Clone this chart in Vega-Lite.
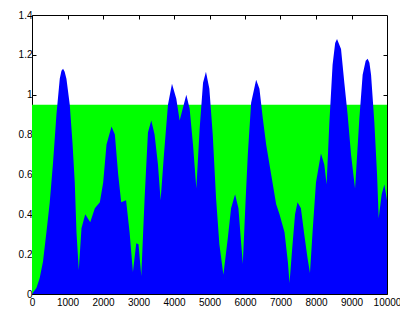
{
  "$schema": "https://vega.github.io/schema/vega-lite/v6.json",
  "autosize": {"type": "none"},
  "padding": {"left": 32, "top": 15, "right": 13, "bottom": 15},
  "width": 355,
  "height": 279,
  "background": "white",
  "config": {
    "view": {"stroke": "black", "strokeWidth": 1},
    "axis": {
      "grid": false,
      "domain": false,
      "tickSize": -4,
      "tickColor": "black",
      "labelFont": "Liberation Sans",
      "labelFontSize": 10,
      "labelColor": "black",
      "title": null
    }
  },
  "datasets": {
    "level": [
      {"x": 0, "y": 0.95},
      {"x": 10000, "y": 0.95}
    ],
    "signal": [
      {"x": 0, "y": 0}, {"x": 124, "y": 0.03}, {"x": 217, "y": 0.08}, {"x": 310, "y": 0.163},
      {"x": 406, "y": 0.31}, {"x": 500, "y": 0.46}, {"x": 593, "y": 0.66}, {"x": 688, "y": 0.9},
      {"x": 782, "y": 1.08}, {"x": 830, "y": 1.12}, {"x": 875, "y": 1.13}, {"x": 920, "y": 1.115}, {"x": 970, "y": 1.08}, {"x": 1064, "y": 0.95},
      {"x": 1140, "y": 0.76}, {"x": 1205, "y": 0.56}, {"x": 1253, "y": 0.31}, {"x": 1318, "y": 0.12},
      {"x": 1394, "y": 0.33}, {"x": 1500, "y": 0.4}, {"x": 1640, "y": 0.36}, {"x": 1770, "y": 0.43},
      {"x": 1911, "y": 0.46}, {"x": 2005, "y": 0.56}, {"x": 2099, "y": 0.75}, {"x": 2240, "y": 0.84},
      {"x": 2334, "y": 0.8}, {"x": 2428, "y": 0.6}, {"x": 2513, "y": 0.46}, {"x": 2650, "y": 0.47},
      {"x": 2749, "y": 0.31}, {"x": 2843, "y": 0.11}, {"x": 2937, "y": 0.255}, {"x": 3000, "y": 0.25},
      {"x": 3078, "y": 0.09}, {"x": 3172, "y": 0.48}, {"x": 3266, "y": 0.81}, {"x": 3360, "y": 0.87},
      {"x": 3453, "y": 0.8}, {"x": 3548, "y": 0.65}, {"x": 3623, "y": 0.47}, {"x": 3717, "y": 0.7},
      {"x": 3830, "y": 0.95}, {"x": 3943, "y": 1.055}, {"x": 4065, "y": 0.98}, {"x": 4159, "y": 0.87},
      {"x": 4347, "y": 1.0}, {"x": 4441, "y": 0.93}, {"x": 4535, "y": 0.75}, {"x": 4629, "y": 0.53},
      {"x": 4723, "y": 0.83}, {"x": 4818, "y": 1.06}, {"x": 4900, "y": 1.115}, {"x": 4996, "y": 1.03},
      {"x": 5091, "y": 0.8}, {"x": 5185, "y": 0.48}, {"x": 5278, "y": 0.25}, {"x": 5391, "y": 0.097},
      {"x": 5515, "y": 0.28}, {"x": 5608, "y": 0.43}, {"x": 5721, "y": 0.5}, {"x": 5815, "y": 0.43},
      {"x": 5890, "y": 0.26}, {"x": 5938, "y": 0.15}, {"x": 6012, "y": 0.45}, {"x": 6079, "y": 0.7},
      {"x": 6173, "y": 0.96}, {"x": 6314, "y": 1.075}, {"x": 6407, "y": 1.03}, {"x": 6503, "y": 0.88},
      {"x": 6596, "y": 0.75}, {"x": 6737, "y": 0.6}, {"x": 6878, "y": 0.45}, {"x": 6972, "y": 0.4},
      {"x": 7113, "y": 0.31}, {"x": 7208, "y": 0.16}, {"x": 7254, "y": 0.055}, {"x": 7330, "y": 0.23},
      {"x": 7410, "y": 0.4}, {"x": 7480, "y": 0.46}, {"x": 7575, "y": 0.43}, {"x": 7669, "y": 0.3},
      {"x": 7762, "y": 0.18}, {"x": 7830, "y": 0.105}, {"x": 7903, "y": 0.31}, {"x": 7999, "y": 0.56},
      {"x": 8140, "y": 0.705}, {"x": 8233, "y": 0.65}, {"x": 8299, "y": 0.55}, {"x": 8374, "y": 0.85},
      {"x": 8467, "y": 1.15}, {"x": 8540, "y": 1.26}, {"x": 8592, "y": 1.28}, {"x": 8705, "y": 1.23}, {"x": 8798, "y": 1.06},
      {"x": 8891, "y": 0.9}, {"x": 8987, "y": 0.7}, {"x": 9100, "y": 0.53}, {"x": 9221, "y": 0.88},
      {"x": 9314, "y": 1.1}, {"x": 9400, "y": 1.17}, {"x": 9455, "y": 1.18}, {"x": 9505, "y": 1.16}, {"x": 9551, "y": 1.1}, {"x": 9644, "y": 0.86},
      {"x": 9720, "y": 0.6}, {"x": 9766, "y": 0.38}, {"x": 9850, "y": 0.5}, {"x": 9926, "y": 0.55},
      {"x": 10000, "y": 0.47}
    ]
  },
  "layer": [
    {
      "data": {"name": "level"},
      "mark": {"type": "area", "color": "#00ff00", "opacity": 1},
      "encoding": {
        "x": {
          "field": "x", "type": "quantitative",
          "scale": {"domain": [0, 10000], "nice": false, "zero": false},
          "axis": {"orient": "bottom", "values": [0, 1000, 2000, 3000, 4000, 5000, 6000, 7000, 8000, 9000, 10000], "format": "d", "labelPadding": 7, "labelFlush": false, "labelOverlap": false}
        },
        "y": {
          "field": "y", "type": "quantitative",
          "scale": {"domain": [0, 1.4], "nice": false},
          "axis": {"orient": "left", "values": [0, 0.2, 0.4, 0.6, 0.8, 1, 1.2, 1.4], "format": "~g", "labelPadding": 4, "labelFlush": false, "labelOverlap": false}
        }
      }
    },
    {
      "data": {"name": "signal"},
      "mark": {"type": "area", "color": "#0000ff", "opacity": 1},
      "encoding": {
        "x": {
          "field": "x", "type": "quantitative",
          "axis": {"orient": "top", "values": [1000, 2000, 3000, 4000, 5000, 6000, 7000, 8000, 9000], "labels": false}
        },
        "y": {
          "field": "y", "type": "quantitative",
          "axis": {"orient": "right", "values": [0.2, 0.4, 0.6, 0.8, 1, 1.2], "labels": false}
        }
      }
    }
  ],
  "resolve": {"axis": {"x": "independent", "y": "independent"}}
}
